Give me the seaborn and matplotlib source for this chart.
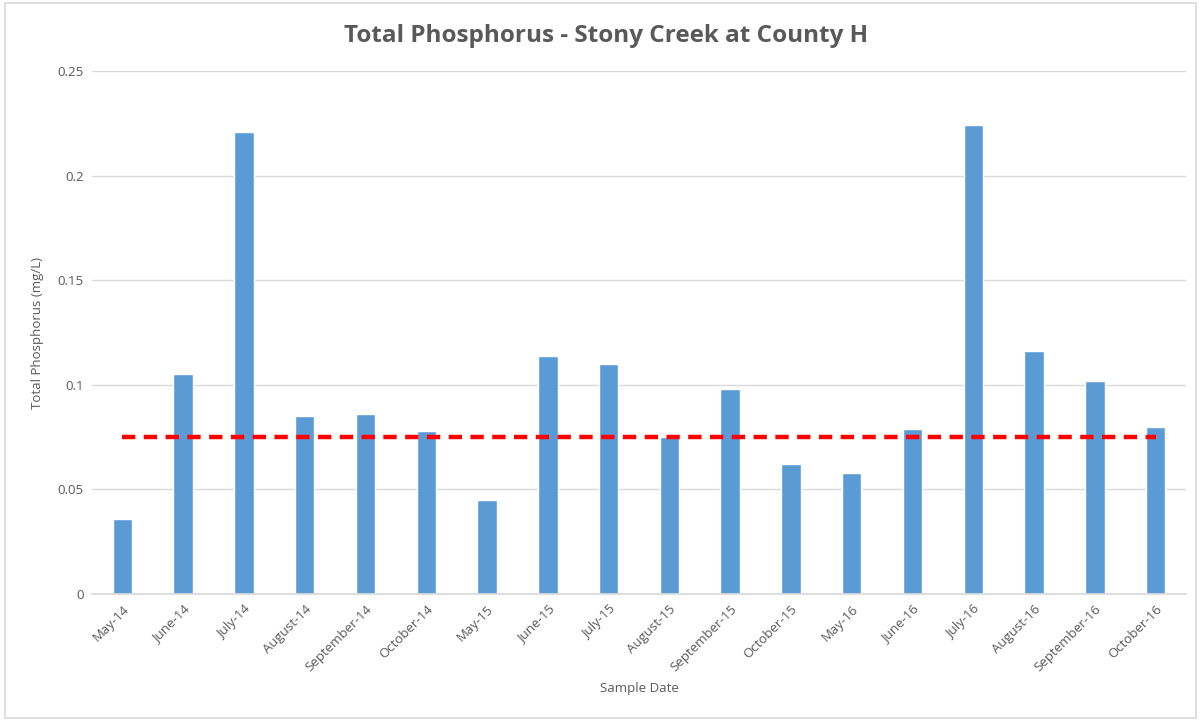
import matplotlib
matplotlib.use("Agg")
import matplotlib.pyplot as plt
import seaborn as sns
import pandas as pd
from matplotlib.patches import Rectangle

dates = ["May-14", "June-14", "July-14", "August-14", "September-14", "October-14",
         "May-15", "June-15", "July-15", "August-15", "September-15", "October-15",
         "May-16", "June-16", "July-16", "August-16", "September-16", "October-16"]
phosphorus = [0.036, 0.105, 0.221, 0.085, 0.086, 0.078,
              0.045, 0.114, 0.110, 0.075, 0.098, 0.062,
              0.058, 0.079, 0.224, 0.116, 0.102, 0.080]
standard = [0.075] * len(dates)

sns.set_theme(style="white")
plt.rcParams['font.family'] = ['Open Sans', 'DejaVu Sans']

df = pd.DataFrame({"date": dates, "tp": phosphorus, "std": standard})

fig = plt.figure(figsize=(12.01, 7.21), dpi=100)
ax = fig.add_axes([0.0766, 0.1761, 0.9875 - 0.0766, 0.9015 - 0.1761])

sns.barplot(data=df, x="date", y="tp", color="#5B9BD5", saturation=1, width=0.32, ax=ax, zorder=2)
ax.plot(range(len(dates)), df["std"], color="#FF0000", lw=3.2, dashes=(3.0, 1.9), zorder=3)

ax.set_ylim(0, 0.25)
ax.set_xlim(-0.5, len(dates) - 0.5)
ax.set_yticks([0, 0.05, 0.1, 0.15, 0.2, 0.25])
ax.set_yticklabels(["0", "0.05", "0.1", "0.15", "0.2", "0.25"])
ax.yaxis.grid(True, color="#D9D9D9", lw=1)
ax.set_axisbelow(True)
for s in ["top", "right", "left"]:
    ax.spines[s].set_visible(False)
ax.spines["bottom"].set_color("#D9D9D9")
ax.tick_params(axis="both", colors="#595959", labelsize=9.5, length=0, pad=6)
plt.setp(ax.get_xticklabels(), rotation=45, ha="right", rotation_mode="anchor")

ax.set_xlabel("Sample Date", color="#595959", fontsize=9.5, labelpad=6)
ax.set_ylabel("Total Phosphorus (mg/L)", color="#595959", fontsize=9.5, labelpad=10)
fig.text(0.505, 0.950, "Total Phosphorus - Stony Creek at County H", ha="center", va="center",
         fontsize=17.5, fontweight="bold", color="#595959")

fig.patches.append(Rectangle((0.004, 0.004), 0.992, 0.992, transform=fig.transFigure,
                             fill=False, edgecolor="#D9D9D9", lw=1.2))

fig.savefig("out.png", dpi=100)
